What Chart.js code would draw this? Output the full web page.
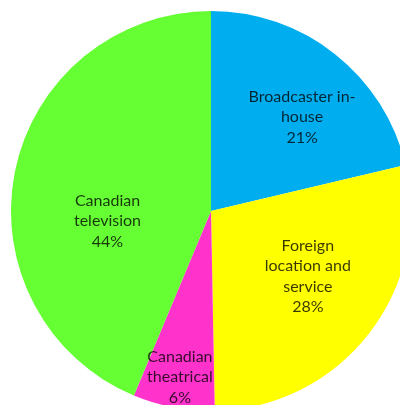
<!DOCTYPE html>
<html>
<head>
<meta charset="utf-8">
<script src="https://cdn.jsdelivr.net/npm/chart.js@4"></script>
<style>
  html, body { margin: 0; padding: 0; background: #fff; overflow: hidden; }
  #wrap { width: 422px; height: 422px; }
</style>
</head>
<body>
<div id="wrap"><canvas id="pieChart" width="422" height="422"></canvas></div>
<script>
// Chart data
const categories = ['Broadcaster in-house', 'Foreign location and service', 'Canadian theatrical', 'Canadian television'];
const labelLines = [
  ['Broadcaster in-', 'house'],
  ['Foreign', 'location and', 'service'],
  ['Canadian', 'theatrical'],
  ['Canadian', 'television']
];
const percentLabels = ['21%', '28%', '6%', '44%'];
// slice sizes
const shares = [21.3, 28.4, 6.6, 43.7];
const sliceColors = ['#00aeef', '#ffff00', '#ff33cc', '#66ff33'];

// where each label sits: [angle shift in degrees, fraction of radius]
const labelPlace = [[5.8, 0.654], [-3.8, 0.584], [-0.2, 0.845], [-17, 0.52]];

const sliceLabels = {
  id: 'sliceLabels',
  afterDatasetsDraw(chart) {
    const ctx = chart.ctx;
    const arcs = chart.getDatasetMeta(0).data;
    ctx.save();
    ctx.font = '16px Lato, "Open Sans", sans-serif';
    ctx.fillStyle = 'rgba(0, 0, 0, 0.78)';
    ctx.textAlign = 'center';
    ctx.textBaseline = 'middle';
    arcs.forEach((arc, i) => {
      const p = arc.getProps(['x', 'y', 'startAngle', 'endAngle', 'outerRadius'], true);
      const a = (p.startAngle + p.endAngle) / 2 + labelPlace[i][0] * Math.PI / 180;
      const r = p.outerRadius * labelPlace[i][1];
      const cx = p.x + Math.cos(a) * r;
      const cy = p.y + Math.sin(a) * r;
      const lines = labelLines[i].concat([percentLabels[i]]);
      const lh = 20.5;
      const top = cy - (lines.length - 1) * lh / 2;
      lines.forEach((t, j) => ctx.fillText(t, cx, top + j * lh));
    });
    ctx.restore();
  }
};

const pieCtx = document.getElementById('pieChart').getContext('2d');
const pieChart = new Chart(pieCtx, {
  type: 'pie',
  data: {
    labels: categories,
    datasets: [{
      data: shares,
      backgroundColor: sliceColors,
      borderWidth: 0
    }]
  },
  options: {
    responsive: false,
    animation: false,
    radius: 200,
    layout: { padding: 0 },
    plugins: {
      legend: { display: false },
      tooltip: { enabled: false }
    }
  },
  plugins: [sliceLabels]
});
</script>
</body>
</html>
